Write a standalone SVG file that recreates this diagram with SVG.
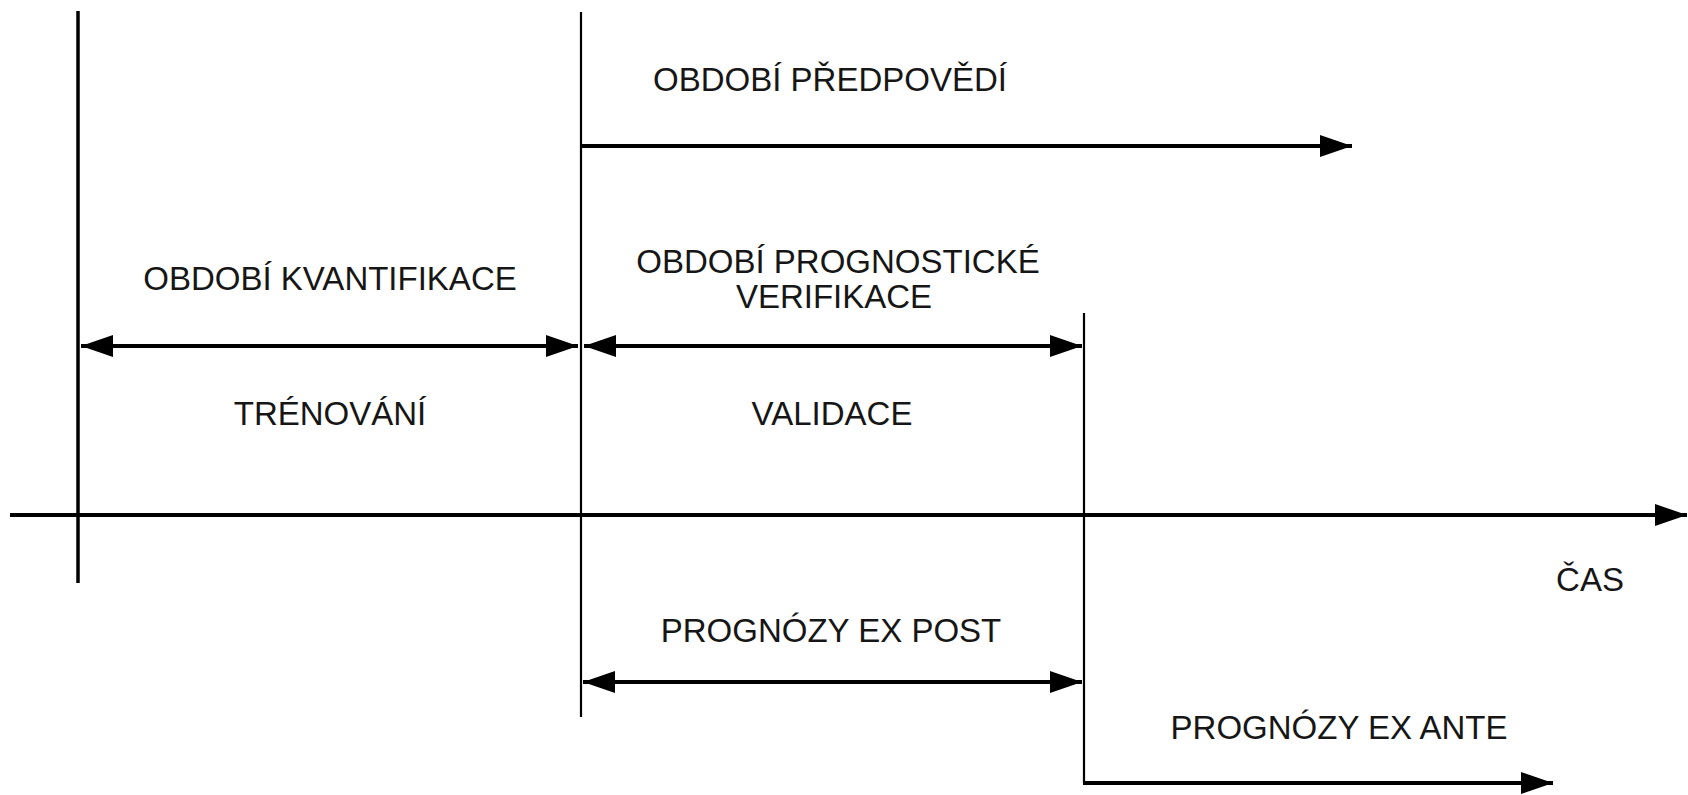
<svg xmlns="http://www.w3.org/2000/svg" width="1688" height="795" viewBox="0 0 1688 795">
  <style>
    .lbl { font-family: "Liberation Sans", Arial, sans-serif; font-size: 33px; fill: #161616; text-anchor: middle; }
    .arrow { stroke: #000; stroke-width: 4; fill: none; }
    .mark { stroke: #000; fill: none; }
  </style>
  <defs>
    <marker id="head" markerUnits="userSpaceOnUse" markerWidth="32" markerHeight="22" refX="32" refY="11" orient="auto-start-reverse">
      <path d="M0,0 L32,11 L0,22 Z" fill="#000"/>
    </marker>
  </defs>

  <rect width="1688" height="795" fill="#fff"/>

  <!-- boundary marks on the time line -->
  <g id="marks">
    <line class="mark" x1="78" y1="11" x2="78" y2="583" stroke-width="3.5"/>
    <line class="mark" x1="581" y1="12" x2="581" y2="717" stroke-width="2.2"/>
    <line class="mark" x1="1084" y1="313" x2="1084" y2="783" stroke-width="2.2"/>
  </g>

  <!-- connectors -->
  <g id="connectors">
    <line id="time-axis" class="arrow" x1="10" y1="515" x2="1687" y2="515" marker-end="url(#head)"/>
    <line id="forecast-period" class="arrow" x1="581" y1="146" x2="1352" y2="146" marker-end="url(#head)"/>
    <line id="training-span" class="arrow" x1="81" y1="346" x2="578" y2="346" marker-start="url(#head)" marker-end="url(#head)"/>
    <line id="validation-span" class="arrow" x1="584" y1="346" x2="1082" y2="346" marker-start="url(#head)" marker-end="url(#head)"/>
    <line id="ex-post-span" class="arrow" x1="583" y1="682" x2="1082" y2="682" marker-start="url(#head)" marker-end="url(#head)"/>
    <line id="ex-ante-span" class="arrow" x1="1083" y1="783" x2="1553" y2="783" marker-end="url(#head)"/>
  </g>

  <!-- labels -->
  <g id="label-forecast"><text class="lbl" x="830" y="91">OBDOBÍ PŘEDPOVĚDÍ</text></g>
  <g id="label-quantification"><text class="lbl" x="330" y="290">OBDOBÍ KVANTIFIKACE</text></g>
  <g id="label-verification">
    <text class="lbl" x="838" y="273">OBDOBÍ PROGNOSTICKÉ</text>
    <text class="lbl" x="834" y="308">VERIFIKACE</text>
  </g>
  <g id="label-training"><text class="lbl" x="330" y="425">TRÉNOVÁNÍ</text></g>
  <g id="label-validation"><text class="lbl" x="832" y="425">VALIDACE</text></g>
  <g id="label-time"><text class="lbl" x="1590" y="591">ČAS</text></g>
  <g id="label-ex-post"><text class="lbl" x="831" y="642">PROGNÓZY EX POST</text></g>
  <g id="label-ex-ante"><text class="lbl" x="1339" y="739">PROGNÓZY EX ANTE</text></g>
</svg>
